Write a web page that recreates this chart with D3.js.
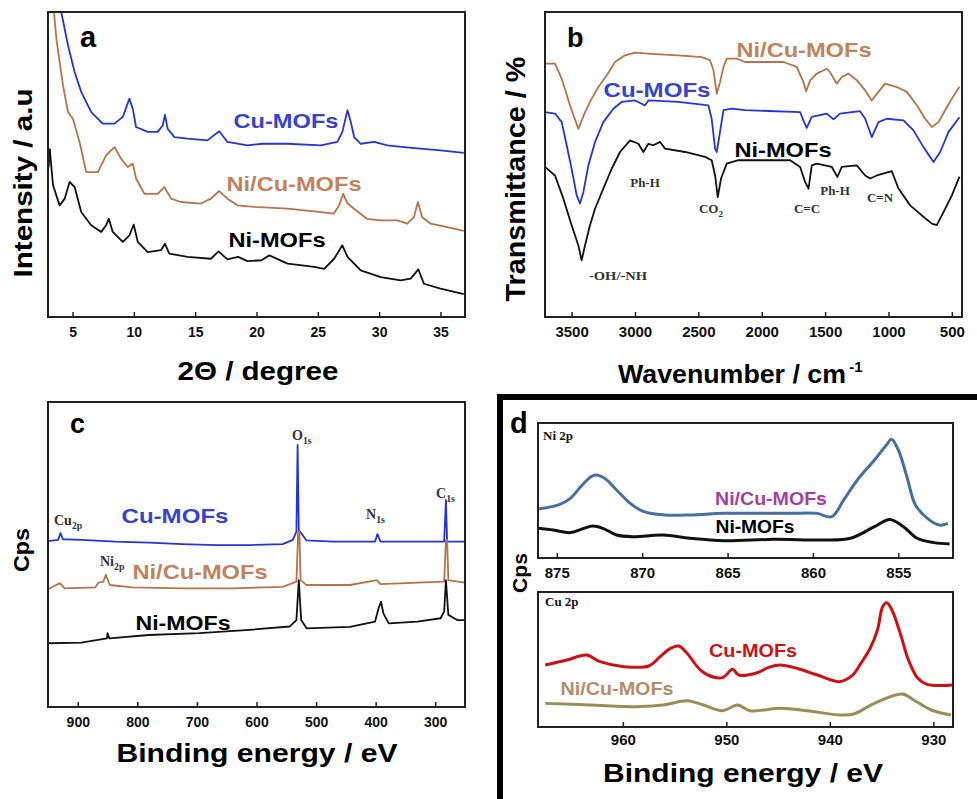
<!DOCTYPE html>
<html>
<head>
<meta charset="utf-8">
<script src="https://cdn.jsdelivr.net/npm/d3@7"></script>
<style>
	body { margin:0; background:#fff; }
	svg { display:block; }
</style>
</head>
<body>
<svg id="fig" width="977" height="799"></svg>
<script>
// ---- values ----

// (a) XRD, 2theta / degree vs intensity (a.u.)
const xrdTicks = [5, 10, 15, 20, 25, 30, 35]
const xrdCu = [[3.95,104],[4.08,100],[4.63,89.1],[5.17,80.3],[5.71,73.8],[6.52,67.2],[7.47,63.4],[8.42,63.4],[9.1,65.6],[9.64,71.6],[9.91,68.3],[10.18,62.3],[11.13,60.7],[11.94,60.7],[12.35,62.8],[12.54,66.3],[12.76,61.7],[13.3,59.0],[14.38,58.5],[16.0,57.9],[16.96,60.9],[17.63,57.4],[19.26,56.3],[20.5,56.8],[22.54,56.8],[25.25,56.3],[26.6,57.4],[27.0,60.7],[27.42,67.8],[27.69,63.9],[27.96,59.0],[28.5,56.8],[29.59,57.4],[30.67,56.3],[32.0,55.7],[33.38,55.2],[35.0,54.6],[36.9,53.8]]
const xrdNiCu = [[3.45,104],[3.49,100],[3.68,91.3],[3.95,83.6],[4.22,76.0],[4.63,67.2],[5.03,65.0],[5.57,57.4],[6.12,47.5],[7.07,47.5],[7.74,53.0],[8.42,55.7],[8.96,51.9],[9.5,49.2],[9.91,50.3],[10.18,45.4],[10.86,40.4],[11.94,40.4],[12.49,42.6],[13.03,38.8],[13.84,37.7],[15.47,37.2],[16.28,38.8],[16.96,41.3],[17.63,38.8],[18.45,36.6],[19.8,36.1],[22.54,35.5],[25.25,34.4],[26.3,33.9],[26.74,36.6],[27.07,40.4],[27.42,37.2],[27.96,35.5],[29.0,32.2],[30.13,31.7],[31.48,31.7],[32.3,30.6],[32.84,32.8],[33.16,37.7],[33.5,32.8],[34.2,30.6],[35.55,29.5],[36.9,28.2]]
const xrdNi = [[3.05,49],[3.15,55],[3.3,48],[3.41,43.2],[3.95,36.6],[4.36,38.8],[4.76,44.3],[5.17,42.6],[5.71,34.4],[6.52,30.1],[7.34,27.9],[7.74,30.1],[7.96,32.2],[8.28,27.9],[9.1,24.6],[9.64,26.8],[9.99,30.3],[10.32,24.6],[11.13,21.3],[12.21,21.9],[12.54,24.0],[12.89,20.8],[14.38,19.7],[16.28,19.1],[16.9,21.5],[17.63,18.9],[18.5,19.7],[19.26,18.3],[20.4,18.6],[21.05,20.2],[22.54,17.5],[24.71,16.4],[25.52,15.8],[26.33,19.1],[27.0,23.5],[27.42,19.7],[28.5,15.3],[30.13,13.1],[31.75,12.0],[32.57,12.6],[33.2,15.6],[33.65,10.9],[35.0,9.3],[36.9,7.5]]

// (b) FTIR, wavenumber / cm-1 vs transmittance
const ftirTicks = [3500, 3000, 2500, 2000, 1500, 1000, 500]
const ftirNiCu = [[3710,83.1],[3631,83.1],[3578,78.1],[3513,69.4],[3447,61.7],[3394,67.2],[3342,71.6],[3289,75.4],[3223,79.2],[3157,83.6],[3079,85.8],[3000,86.7],[2868,86.3],[2658,85.8],[2473,85.2],[2408,84.2],[2381,80.9],[2355,73.2],[2329,77.0],[2302,82.0],[2276,84.7],[2197,84.7],[2132,83.6],[1829,83.6],[1724,82.0],[1671,77.0],[1650,74.0],[1618,77.6],[1566,79.8],[1487,81.4],[1461,80.3],[1408,76.5],[1369,78.7],[1316,79.8],[1250,77.6],[1184,74.3],[1132,71.0],[1079,73.8],[1027,76.5],[934,75.4],[855,73.8],[776,69.4],[711,65.0],[658,62.3],[605,63.9],[553,67.8],[500,71.6],[440,75.5]]
const ftirCu = [[3710,67.2],[3631,66.7],[3578,63.9],[3539,56.3],[3500,48.6],[3460,39.9],[3434,37.2],[3407,41.0],[3368,49.7],[3315,57.4],[3250,63.9],[3171,68.3],[3105,70.5],[3000,71.0],[2921,69.4],[2894,71.0],[2658,70.5],[2421,69.4],[2395,65.0],[2368,55.2],[2355,54.1],[2329,60.7],[2302,67.8],[2237,68.3],[2132,67.8],[1697,67.2],[1666,63.9],[1645,62.0],[1605,65.6],[1487,66.7],[1434,64.8],[1382,66.7],[1224,67.5],[1184,65.0],[1132,59.0],[1079,63.9],[1013,65.0],[882,64.5],[803,61.2],[724,55.7],[645,50.8],[592,54.1],[526,60.7],[440,65.5]]
const ftirNi = [[3710,49.2],[3631,46.4],[3565,38.8],[3500,30.1],[3447,23.5],[3421,18.6],[3394,23.5],[3355,30.1],[3315,35.5],[3250,42.1],[3184,48.6],[3118,54.1],[3039,57.9],[2973,56.8],[2934,54.1],[2894,56.8],[2855,56.3],[2802,57.4],[2763,55.2],[2605,54.1],[2447,52.5],[2395,51.4],[2368,46.4],[2347,39.3],[2321,45.4],[2276,50.3],[2184,51.4],[2013,51.4],[1776,51.4],[1697,49.2],[1658,44.3],[1631,42.1],[1605,49.7],[1566,50.3],[1447,49.2],[1403,45.9],[1369,49.2],[1250,49.7],[1184,46.4],[1145,45.4],[1092,46.4],[974,47.8],[921,42.1],[829,36.6],[737,33.3],[658,30.6],[619,30.1],[566,34.4],[500,39.9],[440,46.0]]

// (c) XPS survey, binding energy / eV vs cps
const surveyTicks = [900, 800, 700, 600, 500, 400, 300]
const surveyCu = [[950,54.4],[933,54.8],[929,57.0],[925,55.0],[894,54.8],[837,54.2],[781,53.9],[725,53.4],[668,53.1],[612,53.1],[556,53.4],[539,54.8],[533,57.5],[531,85.9],[529,58.0],[525,57.0],[516,54.6],[471,54.2],[401,54.2],[397,56.7],[392,54.2],[330,54.2],[285,54.2],[282,67.9],[280,54.2],[251,54.2]]
const surveyNiCu = [[950,38.6],[930,40.6],[922,38.9],[871,39.2],[865,40.8],[857,41.1],[853,43.3],[846,40.0],[809,39.2],[725,38.9],[640,38.9],[556,39.4],[533,41.1],[530,57.5],[528,57.5],[526,41.6],[516,40.0],[443,40.0],[398,41.6],[392,40.3],[330,40.8],[285,41.1],[282,54.8],[280,54.8],[278,41.6],[251,40.8]]
const surveyNi = [[950,20.9],[894,21.1],[851,22.5],[850,24.2],[847,22.5],[781,23.6],[696,24.2],[612,25.3],[544,26.4],[533,28.5],[529,41.6],[525,28.5],[516,25.8],[443,26.3],[401,28.0],[395,32.4],[391,34.5],[387,30.7],[378,27.4],[330,28.0],[291,29.1],[285,31.3],[282,41.6],[278,30.2],[263,28.5],[251,28.5]]

// (d) high resolution Ni 2p and Cu 2p
const ni2pTicks = [875, 870, 865, 860, 855]
const ni2pNiCu = [[876.1,36.3],[874.9,39.3],[874.2,44.2],[873.6,52.8],[873.0,60.2],[872.7,61.5],[872.2,59.0],[871.5,50.4],[870.7,40.5],[869.9,34.3],[868.7,31.9],[867.2,31.9],[865.2,33.1],[863.3,33.1],[861.3,33.1],[859.8,33.1],[858.9,30.6],[858.2,43.0],[857.4,57.8],[856.4,72.6],[855.7,83.7],[855.4,87.9],[855.0,80.0],[854.5,60.2],[854.0,39.3],[853.3,29.4],[852.6,24.4],[852.1,25.7]]
const ni2pNi = [[876.1,22.0],[875.2,20.7],[874.2,18.8],[873.4,22.0],[872.9,23.7],[872.3,22.0],[871.5,17.0],[870.5,15.8],[868.8,17.0],[867.2,14.6],[865.2,12.8],[862.3,13.8],[859.4,13.3],[857.8,14.6],[856.4,23.2],[855.5,28.6],[854.7,23.2],[853.9,14.6],[852.9,11.4],[852.0,10.4]]
const cu2pTicks = [960, 950, 940, 930]
const cu2pCu = [[967.5,45.9],[965.4,49.6],[963.5,53.3],[962.2,48.4],[959.9,44.7],[957.5,45.2],[956.4,52.1],[955.4,58.3],[954.6,60.0],[953.8,54.6],[952.5,42.2],[951.2,36.8],[950.3,36.8],[949.4,42.7],[948.8,38.5],[947.0,40.2],[945.9,44.2],[944.8,45.9],[943.2,43.5],[941.2,38.5],[939.1,33.6],[937.8,38.5],[937.0,47.2],[936.1,58.3],[935.4,71.9],[934.9,89.1],[934.5,92.1],[934.0,86.7],[933.2,69.4],[932.4,49.6],[931.5,36.1],[930.6,31.6],[928.1,31.1]]
const cu2pNiCu = [[967.5,17.5],[963.2,16.3],[958.3,15.1],[956.1,16.3],[953.8,19.5],[952.2,16.3],[950.4,12.1],[948.9,16.3],[947.7,12.1],[944.8,13.8],[942.2,12.1],[939.0,8.9],[937.7,9.6],[935.7,17.5],[933.0,24.4],[931.9,20.0],[930.2,12.6],[928.3,8.9]]

// ---- styles ----
const SANS  = "Arial, 'Liberation Sans', sans-serif"
const SERIF = "'Times New Roman', 'Liberation Serif', serif"
const BLUE  = "#2435d6", BLUE_TXT  = "#3843cc"
const BROWN = "#b5734b", BROWN_TXT = "#c1825c"
const BLACK = "#111"

const svg = d3.select("#fig")
svg.append("rect").attr("width",977).attr("height",799).attr("fill","#fff")

let clipNo = 0

function DrawPlot(box, xDomain, ticks, tickSize, tickPad, series, curve){
	/* frame + inward bottom ticks + the curves, clipped to the frame */
	const g = svg.append("g")
	const xScale = d3.scaleLinear().domain(xDomain).range([box.x0, box.x1])
	const yScale = d3.scaleLinear().domain([0,100]).range([box.y1, box.y0])

	const id = "clip" + (clipNo++)
	g.append("clipPath").attr("id", id)
		.append("rect")
		.attr("x", box.x0).attr("y", box.y0)
		.attr("width", box.x1 - box.x0).attr("height", box.y1 - box.y0)

	const line = d3.line()
		.x(d => xScale(d[0]))
		.y(d => yScale(d[1]))
		.curve(curve || d3.curveLinear)

	const lines = g.append("g").attr("clip-path", "url(#" + id + ")")
	series.forEach(s => {
		lines.append("path")
			.datum(s.data)
			.attr("d", line)
			.attr("fill", "none")
			.attr("stroke", s.color)
			.attr("stroke-width", s.width)
			.attr("stroke-linejoin", "round")
	})

	// bottom axis, ticks pointing into the plot
	let xAxis = d3.axisBottom(xScale)
		.tickValues(ticks)
		.tickSize(-5)
		.tickPadding(tickPad)
		.tickFormat(d3.format("d"))
	let xAxisGroup = g.append("g")
		.attr("transform", "translate(0," + box.y1 + ")")
		.call(xAxis)
	xAxisGroup.select(".domain").remove()
	xAxisGroup
		.selectAll("line")
		.attr("stroke", "#222")
		.style("stroke-width", 1.5)
	xAxisGroup
		.selectAll("text")
		.style("font-family", SANS)
		.style("font-weight", "bold")
		.style("font-size", tickSize + "px")
		.style("fill", "#111")

	g.append("rect")
		.attr("x", box.x0).attr("y", box.y0)
		.attr("width", box.x1 - box.x0).attr("height", box.y1 - box.y0)
		.attr("fill", "none")
		.attr("stroke", "#222")
		.attr("stroke-width", 2)
	return g
}

function Label(text, x, y, size, color, len, opts = {}){
	/* bold sans text, stretched to the measured width like the original */
	const t = svg.append("text")
		.attr("x", x).attr("y", y)
		.attr("text-anchor", opts.anchor || "middle")
		.style("font-family", opts.family || SANS)
		.style("font-weight", "bold")
		.style("font-size", size + "px")
		.style("fill", color)
		.text(text)
	if (len) t.attr("textLength", len).attr("lengthAdjust", "spacingAndGlyphs")
	if (opts.rotate) t.attr("transform", "rotate(-90," + x + "," + y + ")")
	return t
}

function SubLabel(base, sub, x, y, size, anchor){
	/* serif annotation with a subscript, e.g. O1s */
	const t = svg.append("text")
		.attr("x", x).attr("y", y)
		.attr("text-anchor", anchor || "start")
		.style("font-family", SERIF)
		.style("font-weight", "bold")
		.style("font-size", size + "px")
		.style("fill", "#333")
	t.append("tspan").text(base)
	t.append("tspan").attr("dy", 4).style("font-size", (size*0.7) + "px").text(sub)
	return t
}

// ---------------- (a) XRD ----------------
DrawPlot({x0:48, x1:465, y0:12, y1:317}, [3,37], xrdTicks, 14, 10, [
	{data: xrdCu,   color: BLUE,  width: 1.8},
	{data: xrdNiCu, color: BROWN, width: 1.8},
	{data: xrdNi,   color: BLACK, width: 1.8}
])
Label("a", 80, 47, 29, "#000", null, {anchor:"start"})
Label("Cu-MOFs",    286, 128, 21, BLUE_TXT,  105)
Label("Ni/Cu-MOFs", 294, 191, 21, BROWN_TXT, 135)
Label("Ni-MOFs",    277, 247, 21, "#000",    97)
Label("2\u0398 / degree", 258, 380, 25, "#000", 161)
Label("Intensity / a.u", 32, 183, 26, "#000", 189, {rotate:true})

// ---------------- (b) FTIR ----------------
DrawPlot({x0:545, x1:962, y0:12, y1:317}, [3710,420], ftirTicks, 15, 9, [
	{data: ftirNiCu, color: BROWN, width: 1.8},
	{data: ftirCu,   color: BLUE,  width: 1.8},
	{data: ftirNi,   color: BLACK, width: 1.8}
])
Label("b", 567, 47, 27, "#000", null, {anchor:"start"})
Label("Ni/Cu-MOFs", 804, 57,  21, BROWN_TXT, 135)
Label("Cu-MOFs",    657, 97,  21, BLUE_TXT,  107)
Label("Ni-MOFs",    783, 157, 21, "#000",    97)
Label("-OH/-NH", 618, 280, 13, "#333", 58, {family:SERIF})
Label("Ph-H",    645, 187, 13, "#333", null, {family:SERIF})
SubLabel("CO", "2", 711, 213, 13, "middle")
Label("C=C",     807, 213, 13, "#333", null, {family:SERIF})
Label("Ph-H",    835, 195, 13, "#333", null, {family:SERIF})
Label("C=N",     880, 202, 13, "#333", null, {family:SERIF})
const wn = Label("Wavenumber / cm", 732, 383, 25, "#000", 228)
svg.append("text")
	.attr("x", 856).attr("y", 372)
	.attr("text-anchor", "middle")
	.style("font-family", SANS).style("font-weight", "bold").style("font-size", "15px")
	.text("-1")
Label("Transmittance / %", 525, 179, 27, "#000", 245, {rotate:true})

// ---------------- (c) XPS survey ----------------
DrawPlot({x0:48, x1:465, y0:402, y1:707}, [950,250], surveyTicks, 14, 10, [
	{data: surveyCu,   color: BLUE,  width: 1.8},
	{data: surveyNiCu, color: BROWN, width: 1.8},
	{data: surveyNi,   color: BLACK, width: 1.8}
])
Label("c", 70, 433, 27, "#000", null, {anchor:"start"})
Label("Cu-MOFs",    175, 523, 21, BLUE_TXT,  107)
Label("Ni/Cu-MOFs", 200, 579, 21, BROWN_TXT, 135)
Label("Ni-MOFs",    183, 630, 21, "#000",    95)
SubLabel("Cu", "2p", 54, 525, 14)
SubLabel("Ni", "2p", 100, 566, 14)
SubLabel("O",  "1s", 292, 440, 14)
SubLabel("N",  "1s", 366, 519, 14)
SubLabel("C",  "1s", 436, 498, 14)
Label("Binding energy / eV", 257, 762, 26, "#000", 281)
Label("Cps", 29, 550, 22, "#000", 44, {rotate:true})

// ---------------- (d) Ni 2p / Cu 2p ----------------
svg.append("path")
	.attr("d", "M500,799 L500,397 L977,397")
	.attr("fill", "none")
	.attr("stroke", "#000")
	.attr("stroke-width", 6)

DrawPlot({x0:538, x1:953, y0:423, y1:558}, [876.1,851.8], ni2pTicks, 15, 9, [
	{data: ni2pNiCu, color: "#48709e", width: 3},
	{data: ni2pNi,   color: BLACK,     width: 3}
], d3.curveCatmullRom.alpha(0.5))
DrawPlot({x0:538, x1:953, y0:592, y1:727}, [968.2,928.1], cu2pTicks, 15, 7, [
	{data: cu2pCu,   color: "#cc1014", width: 3},
	{data: cu2pNiCu, color: "#9a8d55", width: 3}
], d3.curveCatmullRom.alpha(0.5))

Label("d", 510, 433, 29, "#000", null, {anchor:"start"})
Label("Ni 2p", 543, 440, 13, "#111", null, {anchor:"start", family:SERIF})
Label("Cu 2p", 545, 606, 13, "#111", null, {anchor:"start", family:SERIF})
Label("Ni/Cu-MOFs", 771, 505, 18, "#a33fa3", 112)
Label("Ni-MOFs",    755, 533, 18, "#000",    79)
Label("Cu-MOFs",    753, 657, 18, "#cc1111", 88)
Label("Ni/Cu-MOFs", 617, 695, 18, "#b58c68", 113)
Label("Binding energy / eV", 743, 782, 26, "#000", 280)
Label("Cps", 527, 573, 21, "#000", 40, {rotate:true})
</script>
</body>
</html>
